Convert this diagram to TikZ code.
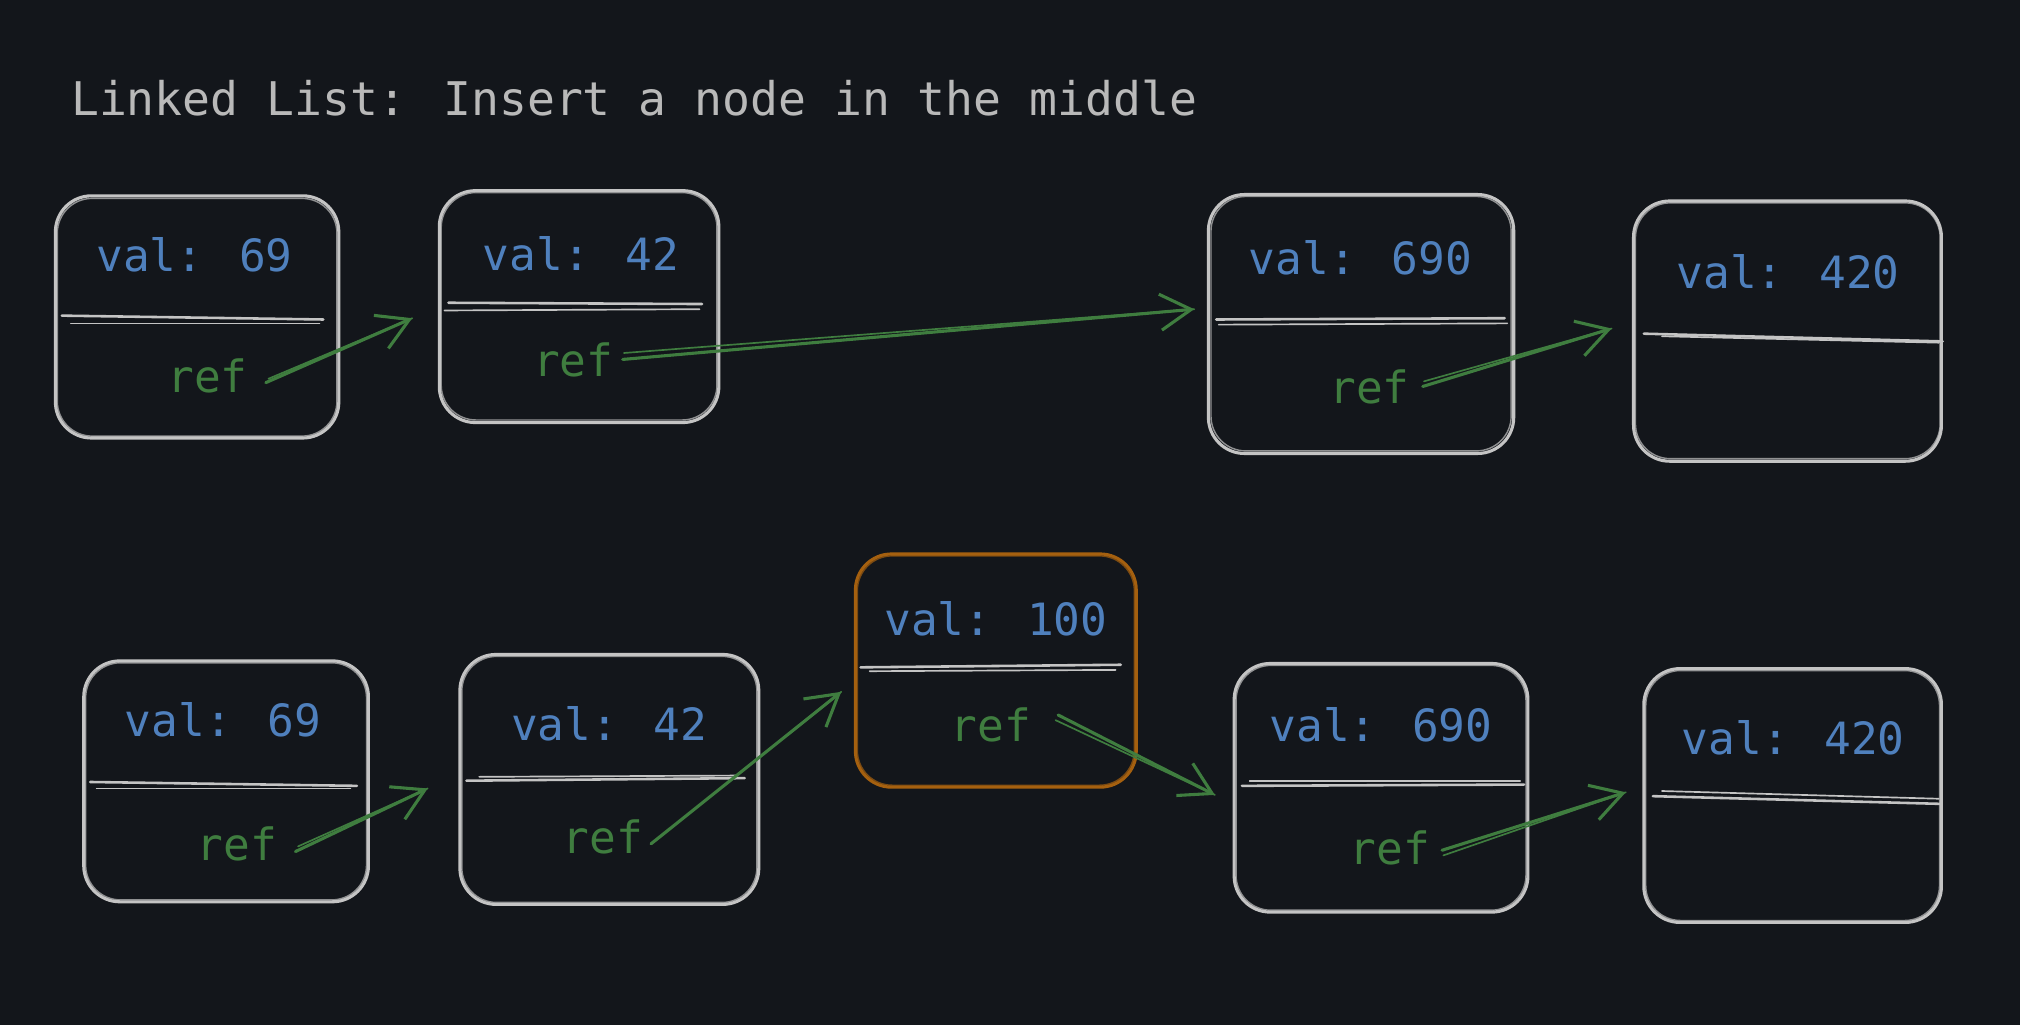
\documentclass[tikz,border=0pt]{standalone}
\usepackage{fontspec}
\newfontfamily\codefont{DejaVu Sans Mono}
\usetikzlibrary{arrows.meta,calc}
\definecolor{bg}{HTML}{13161B}
\definecolor{boxc}{HTML}{C4C4C4}
\definecolor{valc}{HTML}{4F80BD}
\definecolor{refc}{HTML}{3F7D3F}
\definecolor{newc}{HTML}{A5600F}
\definecolor{titlec}{HTML}{B9B9B9}
\begin{document}
\begin{tikzpicture}[x=1pt,y=-1pt,
  llbox/.style={draw=boxc, line width=2.4pt, rounded corners=28pt, inner sep=0pt},
  newbox/.style={llbox, draw=newc},
  sketch/.style={draw=boxc, line width=1.1pt, rounded corners=27pt, opacity=0.7},
  newsketch/.style={sketch, draw=newc},
  valtxt/.style={inner sep=0pt, text=valc, font=\codefont\fontsize{34.5}{40}\selectfont},
  reftxt/.style={inner sep=0pt, text=refc, font=\codefont\fontsize{34.5}{40}\selectfont},
  divider/.style={draw=boxc, line width=2pt, line cap=round},
  divider2/.style={draw=boxc, line width=1.3pt, line cap=round},
  ptr/.style={draw=refc, line width=2.4pt, line cap=round, -{Straight Barb[length=24pt,width=28pt,line width=2.4pt]}},
  ptr2/.style={draw=refc, line width=1.3pt, line cap=round},
  titletxt/.style={inner sep=0pt, anchor=west, text=titlec, font=\codefont\fontsize{36}{40}\selectfont}
]
\fill[bg] (0,0) rectangle (1568,796);
\useasboundingbox (0,0) rectangle (1568,796);

\node[titletxt] (title) at (55,76) {Linked List: Insert a node in the middle};

% ---------- top row ----------
\node[llbox, minimum width=220pt, minimum height=188pt] (a1) at (153,246) {};
\node[llbox, minimum width=217pt, minimum height=180pt] (a2) at (449.5,238) {};
\node[llbox, minimum width=237pt, minimum height=201pt] (a3) at (1056.5,251.5) {};
\node[llbox, minimum width=239pt, minimum height=202pt] (a4) at (1387.5,257) {};

\draw[sketch] (44.5,154) rectangle (261.5,338.5);
\draw[sketch] (342.5,149.5) rectangle (556.5,326);
\draw[sketch] (940,152.5) rectangle (1173,350);
\draw[sketch] (1269.5,157.5) rectangle (1506,356);

\draw[divider]  (48,245) -- (251,248);
\draw[divider2] (55,251) -- (248,251);
\draw[divider]  (348,235) -- (545,236);
\draw[divider2] (345,241) -- (543,240);
\draw[divider]  (944,248) -- (1168,247);
\draw[divider2] (946,252) -- (1170,251);
\draw[divider]  (1276,259) -- (1508,265);
\draw[divider2] (1290,261) -- (1505,266);

\node[valtxt] (a1v) at (151,198) {val: 69};
\node[valtxt] (a2v) at (451,197) {val: 42};
\node[valtxt] (a3v) at (1056,200) {val: 690};
\node[valtxt] (a4v) at (1388,211) {val: 420};

\node[reftxt] (a1r) at (161,292) {ref};
\node[reftxt] (a2r) at (445,279) {ref};
\node[reftxt] (a3r) at (1063,300) {ref};

\coordinate (e1) at (320,247);
\coordinate (e2) at (927,240);
\coordinate (e3) at (1251,255);

\draw[ptr]  ($(a1r.east)+(14,5)$) -- (e1);
\draw[ptr2] ($(a1r.east)+(16,2)$) -- (e1);
\draw[ptr]  ($(a2r.east)+(7,0)$) -- (e2);
\draw[ptr2] ($(a2r.east)+(8,-5)$) -- (e2);
\draw[ptr]  ($(a3r.east)+(10,0)$) -- (e3);
\draw[ptr2] ($(a3r.east)+(11,-4)$) -- (e3);

% ---------- bottom row ----------
\node[llbox, minimum width=221pt, minimum height=187pt] (b1) at (175.5,606.5) {};
\node[llbox, minimum width=232pt, minimum height=194pt] (b2) at (473,605) {};
\node[newbox, minimum width=218pt, minimum height=181pt] (b3) at (773,520.5) {};
\node[llbox, minimum width=228pt, minimum height=193pt] (b4) at (1072,611.5) {};
\node[llbox, minimum width=231pt, minimum height=197pt] (b5) at (1391.5,617.5) {};

\draw[sketch] (66.5,514.5) rectangle (284.5,698.5);
\draw[sketch] (358.5,509.5) rectangle (587.5,700.5);
\draw[newsketch] (665.5,431.5) rectangle (880.5,609.5);
\draw[sketch] (959.5,516.5) rectangle (1184.5,706.5);
\draw[sketch] (1277.5,520.5) rectangle (1505.5,714.5);

\draw[divider]  (70,607) -- (277,610);
\draw[divider2] (75,612) -- (272,612);
\draw[divider]  (362,606) -- (578,604);
\draw[divider2] (372,603) -- (572,602);
\draw[divider]  (668,518) -- (870,516);
\draw[divider2] (675,521) -- (866,520);
\draw[divider]  (964,610) -- (1183,609);
\draw[divider2] (970,606) -- (1180,606);
\draw[divider]  (1283,618) -- (1507,624);
\draw[divider2] (1290,614) -- (1505,620);

\node[valtxt] (b1v) at (173,559) {val: 69};
\node[valtxt] (b2v) at (473,562) {val: 42};
\node[valtxt] (b3v) at (773,480) {val: 100};
\node[valtxt] (b4v) at (1072,563) {val: 690};
\node[valtxt] (b5v) at (1392,573) {val: 420};

\node[reftxt] (b1r) at (184,655) {ref};
\node[reftxt] (b2r) at (468,650) {ref};
\node[reftxt] (b3r) at (769,563) {ref};
\node[reftxt] (b4r) at (1079,658) {ref};

\coordinate (f1) at (332,612);
\coordinate (f2) at (653,537);
\coordinate (f3) at (943,617);
\coordinate (f4) at (1262,615);

\draw[ptr]  ($(b1r.east)+(14,6)$) -- (f1);
\draw[ptr2] ($(b1r.east)+(16,2)$) -- (f1);
\draw[ptr]  ($(b2r.east)+(6,5)$) -- (f2);
\draw[ptr2] ($(b2r.east)+(9,3)$) -- (f2);
\draw[ptr]  ($(b3r.east)+(21,-8)$) -- (f3);
\draw[ptr2] ($(b3r.east)+(19,-4)$) -- (f3);
\draw[ptr]  ($(b4r.east)+(9,2)$) -- (f4);
\draw[ptr2] ($(b4r.east)+(10,6)$) -- (f4);
\end{tikzpicture}
\end{document}
